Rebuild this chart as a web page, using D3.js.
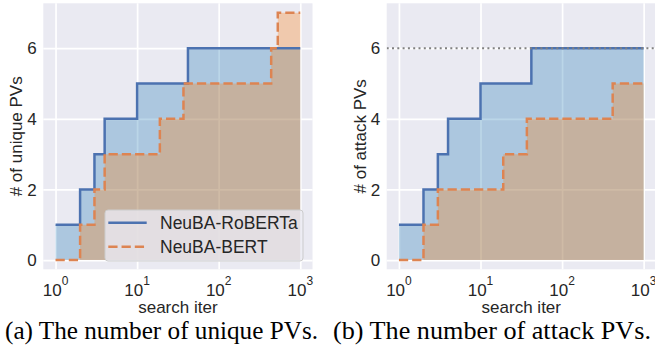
<!DOCTYPE html>
<html>
<head>
<meta charset="utf-8">
<script src="https://cdn.jsdelivr.net/npm/d3@7"></script>
<style>
  body { margin: 0; background: #fff; }
  svg { display: block; }
  .tick-label, .axis-label, .legend text { font-family: "Liberation Sans", Arial, sans-serif; fill: #262626; }
  .caption { font-family: "Liberation Serif", "Times New Roman", serif; fill: #000; }
</style>
</head>
<body>
<div class="vis"></div>
<script>
(function() {
  'use strict';

  // ticks
  var xTicks = [1, 10, 100, 1000],
    yTicks = [0, 2, 4, 6];

  var seriesNames = ['NeuBA-RoBERTa', 'NeuBA-BERT'];

  // (a) unique PVs, step values (hold until next iter)
  var uniqueRobertaIter = [1, 2, 3, 4, 10, 42, 1000],
    uniqueRobertaPVs = [1, 2, 3, 4, 5, 6, 6],
    uniqueBertIter = [1, 2, 3, 4, 19, 37, 440, 530, 1000],
    uniqueBertPVs = [0, 1, 2, 3, 4, 5, 6, 7, 7];

  // (b) attack PVs
  var attackRobertaIter = [1, 2, 3, 4, 10, 42, 1000],
    attackRobertaPVs = [1, 2, 3, 4, 5, 6, 6],
    attackBertIter = [1, 2, 3, 19, 37, 417, 1000],
    attackBertPVs = [0, 1, 2, 3, 4, 5, 5],
    attackTotal = 6;

  var lineColors = ['#4C72B0', '#DD8452'],
    fillColors = ['#1f77b4', '#ff7f0e'];

  var svg = d3.select('.vis').append('svg')
    .attr('width', 655)
    .attr('height', 349);

  function zip(xs, ys) {
    return xs.map(function(x, i) { return [x, ys[i]]; });
  }

  function panel(opts) {
    var w = 269.2, h = 266;
    var g = svg.append('g')
      .attr('transform', 'translate(' + opts.left + ',3.3)');

    var x = d3.scaleLog()
      .domain([Math.pow(10, -0.15), Math.pow(10, 3.15)])
      .range([0, w]);
    var y = d3.scaleLinear()
      .domain([-0.26, 7.27])
      .range([h, 0]);

    g.append('clipPath').attr('id', opts.id)
      .append('rect').attr('width', w).attr('height', h);

    g.append('rect')
      .attr('width', w)
      .attr('height', h)
      .attr('fill', '#EAEAF2');

    // grid
    g.append('g')
      .call(d3.axisBottom(x).tickValues(xTicks).tickSize(h).tickFormat(''))
      .call(function(s) {
        s.select('.domain').remove();
        s.selectAll('line').attr('stroke', '#fff').attr('stroke-width', 1.7);
      });
    g.append('g')
      .call(d3.axisLeft(y).tickValues(yTicks).tickSize(-w).tickFormat(''))
      .call(function(s) {
        s.select('.domain').remove();
        s.selectAll('line').attr('stroke', '#fff').attr('stroke-width', 1.7);
      });

    var plot = g.append('g').attr('clip-path', 'url(#' + opts.id + ')');

    var area = d3.area()
      .curve(d3.curveStepAfter)
      .x(function(d) { return x(d[0]); })
      .y0(y(0))
      .y1(function(d) { return y(d[1]); });
    var line = d3.line()
      .curve(d3.curveStepAfter)
      .x(function(d) { return x(d[0]); })
      .y(function(d) { return y(d[1]); });

    opts.series.forEach(function(s, i) {
      plot.append('path')
        .attr('d', area(s))
        .attr('fill', fillColors[i])
        .attr('fill-opacity', 0.3);
    });
    opts.series.forEach(function(s, i) {
      plot.append('path')
        .attr('d', line(s))
        .attr('fill', 'none')
        .attr('stroke', lineColors[i])
        .attr('stroke-width', 2.5)
        .attr('stroke-dasharray', i === 1 ? '9.25,4' : null);
    });

    if (opts.hline != null) {
      plot.append('line')
        .attr('x1', 0).attr('x2', w)
        .attr('y1', y(opts.hline)).attr('y2', y(opts.hline))
        .attr('stroke', '#808080')
        .attr('stroke-width', 2)
        .attr('stroke-dasharray', '2,3.3');
    }

    // tick labels
    xTicks.forEach(function(t) {
      var txt = g.append('text')
        .attr('class', 'tick-label')
        .attr('x', x(t))
        .attr('y', 293.2)
        .attr('text-anchor', 'middle')
        .style('font-size', '17px');
      txt.append('tspan').text('10');
      txt.append('tspan')
        .attr('dy', -11)
        .style('font-size', '12px')
        .text(Math.round(Math.log10(t)));
    });
    yTicks.forEach(function(t) {
      g.append('text')
        .attr('class', 'tick-label')
        .attr('x', -6.5)
        .attr('y', y(t))
        .attr('dy', '0.36em')
        .attr('text-anchor', 'end')
        .style('font-size', '17px')
        .text(t);
    });

    g.append('text')
      .attr('class', 'axis-label')
      .attr('x', w / 2)
      .attr('y', 310.2)
      .attr('text-anchor', 'middle')
      .style('font-size', '17px')
      .text('search iter');
    g.append('text')
      .attr('class', 'axis-label')
      .attr('transform', 'translate(' + opts.ylabelX + ',' + (h / 2) + ') rotate(-90)')
      .attr('dy', '0.36em')
      .attr('text-anchor', 'middle')
      .style('font-size', '17px')
      .text(opts.ylabel);

    if (opts.legend) {
      var lg = g.append('g').attr('class', 'legend')
        .attr('transform', 'translate(61.7,206.7)');
      lg.append('rect')
        .attr('width', 198)
        .attr('height', 51)
        .attr('rx', 3)
        .attr('fill', '#EAEAF2')
        .attr('fill-opacity', 0.8)
        .attr('stroke', '#cccccc')
        .attr('stroke-width', 1);
      seriesNames.forEach(function(name, i) {
        var ly = 12.7 + i * 24;
        lg.append('line')
          .attr('x1', 3.3).attr('x2', 41.7)
          .attr('y1', ly).attr('y2', ly)
          .attr('stroke', lineColors[i])
          .attr('stroke-width', 2.5)
          .attr('stroke-dasharray', i === 1 ? '9.25,4' : null);
        lg.append('text')
          .attr('x', 55)
          .attr('y', ly)
          .attr('dy', '0.36em')
          .style('font-size', '17.5px')
          .text(name);
      });
    }

    g.append('text')
      .attr('class', 'caption')
      .attr('x', opts.captionX)
      .attr('y', 335.7)
      .attr('textLength', opts.captionWidth)
      .attr('lengthAdjust', 'spacingAndGlyphs')
      .style('font-size', '25.5px')
      .text(opts.caption);
  }

  panel({
    id: 'clipA',
    left: 43.3,
    series: [zip(uniqueRobertaIter, uniqueRobertaPVs), zip(uniqueBertIter, uniqueBertPVs)],
    ylabel: '# of unique PVs',
    ylabelX: -27.8,
    legend: true,
    caption: '(a) The number of unique PVs.',
    captionX: -38.3,
    captionWidth: 313
  });

  panel({
    id: 'clipB',
    left: 386.7,
    series: [zip(attackRobertaIter, attackRobertaPVs), zip(attackBertIter, attackBertPVs)],
    hline: attackTotal,
    ylabel: '# of attack PVs',
    ylabelX: -27.2,
    legend: false,
    caption: '(b) The number of attack PVs.',
    captionX: -53.7,
    captionWidth: 318
  });

}());
</script>
</body>
</html>
